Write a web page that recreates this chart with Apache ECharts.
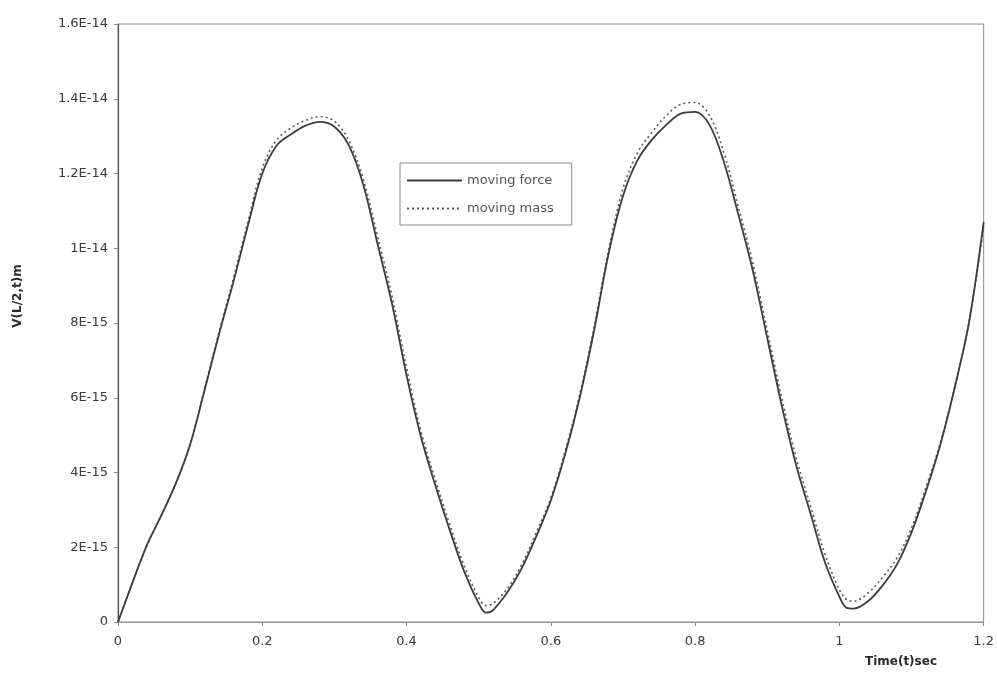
<!DOCTYPE html>
<html>
<head>
<meta charset="utf-8">
<script src="https://cdn.jsdelivr.net/npm/echarts@6/dist/echarts.min.js"></script>
<style>
  html, body { margin: 0; padding: 0; background: #fff; }
  #chart { width: 997px; height: 680px; }
</style>
</head>
<body>
<div id="chart"></div>
<script>
// Time samples (s)
const timeSec = [
  0.00, 0.02, 0.04, 0.06, 0.08, 0.10, 0.12, 0.14, 0.16, 0.18,
  0.20, 0.22, 0.24, 0.26, 0.28, 0.30, 0.32, 0.34, 0.36, 0.38,
  0.40, 0.42, 0.44, 0.46, 0.48, 0.50, 0.51, 0.52, 0.54, 0.56, 0.58,
  0.60, 0.62, 0.64, 0.66, 0.68, 0.70, 0.72, 0.74, 0.76, 0.78,
  0.80, 0.82, 0.84, 0.86, 0.88, 0.90, 0.92, 0.94, 0.96, 0.98,
  1.00, 1.01, 1.02, 1.04, 1.06, 1.08, 1.10, 1.12, 1.14, 1.16, 1.18,
  1.20
];

// Mid-span deflection V(L/2,t), in units of 1E-15 m
const movingForce = [
  0.00, 1.05, 2.05, 2.85, 3.70, 4.75, 6.20, 7.70, 9.10, 10.60,
  12.00, 12.75, 13.05, 13.28, 13.38, 13.25, 12.75, 11.70, 10.10, 8.50,
  6.60, 4.95, 3.65, 2.45, 1.35, 0.50, 0.25, 0.32, 0.80, 1.45, 2.30,
  3.25, 4.50, 6.00, 7.80, 9.85, 11.40, 12.35, 12.90, 13.30, 13.60,
  13.65, 13.30, 12.30, 10.90, 9.40, 7.60, 5.80, 4.20, 2.90, 1.60,
  0.68, 0.38, 0.36, 0.56, 0.98, 1.55, 2.40, 3.50, 4.75, 6.28, 8.05,
  10.70
];

const movingMass = [
  0.00, 1.05, 2.05, 2.85, 3.70, 4.75, 6.25, 7.75, 9.20, 10.70,
  12.15, 12.90, 13.22, 13.42, 13.52, 13.40, 12.88, 11.85, 10.30, 8.70,
  6.80, 5.10, 3.80, 2.60, 1.50, 0.66, 0.44, 0.50, 0.90, 1.55, 2.40,
  3.32, 4.58, 6.08, 7.90, 9.95, 11.60, 12.55, 13.10, 13.55, 13.85,
  13.90, 13.55, 12.55, 11.10, 9.60, 7.80, 6.00, 4.40, 3.10, 1.82,
  0.86, 0.60, 0.56, 0.78, 1.20, 1.72, 2.52, 3.60, 4.80, 6.30, 8.05,
  10.60
];

// Axis tick labels
const yTickLabels = ['0', '2E-15', '4E-15', '6E-15', '8E-15', '1E-14', '1.2E-14', '1.4E-14', '1.6E-14'];
const xTickLabels = ['0', '0.2', '0.4', '0.6', '0.8', '1', '1.2'];

const seriesNames = ['moving force', 'moving mass'];

const font = '"DejaVu Sans", Arial, sans-serif';

const chart = echarts.init(document.getElementById('chart'), null, { renderer: 'canvas' });

const pairs = (ys) => timeSec.map((t, i) => [t, ys[i]]);

chart.setOption({
  backgroundColor: '#ffffff',
  animation: false,
  grid: { left: 118, right: 13, top: 24, bottom: 58, show: true, borderColor: '#8a8a8a', borderWidth: 1 },
  xAxis: {
    type: 'value',
    min: 0, max: 1.2, interval: 0.2,
    axisLine: { show: true, onZero: false, lineStyle: { color: '#9a9a9a', width: 1 } },
    axisTick: { show: true, inside: false, length: 4, lineStyle: { color: '#8a8a8a' } },
    splitLine: { show: false },
    axisLabel: {
      margin: 13, color: '#3a3a3a', fontFamily: font, fontSize: 13,
      formatter: (v) => xTickLabels[Math.round(v / 0.2)]
    }
  },
  yAxis: {
    type: 'value',
    min: 0, max: 16, interval: 2,
    axisLine: { show: true, lineStyle: { color: '#555555', width: 1.2 } },
    axisTick: { show: true, length: 4, lineStyle: { color: '#8a8a8a' } },
    splitLine: { show: false },
    axisLabel: {
      margin: 10, color: '#3a3a3a', fontFamily: font, fontSize: 13,
      formatter: (v) => yTickLabels[Math.round(v / 2)]
    }
  },
  legend: {
    orient: 'vertical',
    left: 400, top: 163,
    itemWidth: 55, itemHeight: 10, itemGap: 15,
    padding: [11, 18, 10, 6],
    borderColor: '#8a8a8a', borderWidth: 1,
    itemStyle: { opacity: 0 },
    textStyle: { color: '#555', fontFamily: font, fontSize: 13 },
    data: seriesNames
  },
  series: [
    {
      name: seriesNames[1],
      type: 'line',
      data: pairs(movingMass),
      smooth: 0.35,
      showSymbol: false, symbol: 'none',
      lineStyle: { color: '#5a5a5a', width: 1.6, type: [2, 3] },
      itemStyle: { color: '#5a5a5a' },
      z: 2
    },
    {
      name: seriesNames[0],
      type: 'line',
      data: pairs(movingForce),
      smooth: 0.35,
      showSymbol: false, symbol: 'none',
      lineStyle: { color: '#3c3c3c', width: 1.8 },
      itemStyle: { color: '#3c3c3c' },
      z: 3
    }
  ],
  graphic: [
    {
      type: 'text',
      x: 18, y: 296, rotation: Math.PI / 2,
      style: {
        text: 'V(L/2,t)m', fill: '#2a2a2a',
        font: 'bold 12px ' + font,
        align: 'center', verticalAlign: 'middle'
      }
    },
    {
      type: 'text',
      x: 937, y: 662,
      style: {
        text: 'Time(t)sec', fill: '#2a2a2a',
        font: 'bold 12px ' + font,
        align: 'right', verticalAlign: 'middle'
      }
    }
  ]
});
</script>
</body>
</html>
